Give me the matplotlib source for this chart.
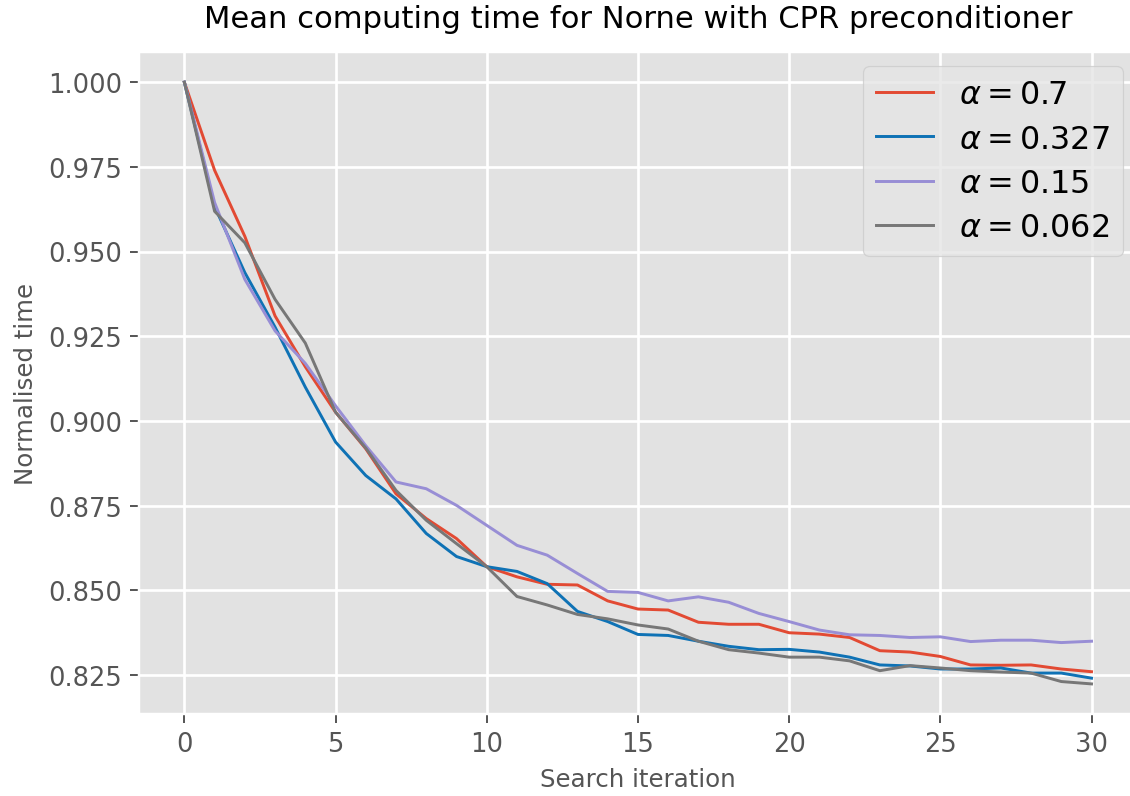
import numpy as np
import matplotlib
matplotlib.use("Agg")
import matplotlib.pyplot as plt

plt.style.use("ggplot")

iterations = np.arange(31)

# mean normalised computing time per search iteration, one list per alpha
time_a07 = [1.000, 0.974, 0.9545, 0.931, 0.916, 0.9026, 0.8918, 0.8785, 0.8712, 0.8653,
            0.857, 0.854, 0.8518, 0.8516, 0.8469, 0.8445, 0.8442, 0.8406, 0.840, 0.840,
            0.8375, 0.8371, 0.8361, 0.8322, 0.8318, 0.8305, 0.828, 0.8279, 0.828, 0.8268,
            0.826]
time_a0327 = [1.000, 0.9633, 0.9438, 0.9277, 0.910, 0.8938, 0.8839, 0.877, 0.8668, 0.860,
              0.857, 0.8556, 0.852, 0.8438, 0.8408, 0.837, 0.8367, 0.835, 0.8335, 0.8325,
              0.8326, 0.8318, 0.8303, 0.828, 0.8277, 0.8268, 0.8268, 0.8271, 0.8256, 0.8256,
              0.8241]
time_a015 = [1.000, 0.9645, 0.9418, 0.9266, 0.917, 0.9045, 0.8927, 0.882, 0.880, 0.8751,
             0.8692, 0.8633, 0.8604, 0.855, 0.8497, 0.8494, 0.8469, 0.8481, 0.8465, 0.8432,
             0.8408, 0.8383, 0.8369, 0.8367, 0.8361, 0.8363, 0.8349, 0.8353, 0.8353, 0.8346,
             0.835]
time_a0062 = [1.000, 0.9619, 0.9526, 0.9359, 0.923, 0.9026, 0.892, 0.8795, 0.8707, 0.8638,
              0.857, 0.8482, 0.8457, 0.8429, 0.8416, 0.8398, 0.8386, 0.835, 0.8325, 0.8315,
              0.8303, 0.8303, 0.8292, 0.8263, 0.8278, 0.8271, 0.8263, 0.8259, 0.8256, 0.8231,
              0.8224]

series = [
    (time_a07, r"$\alpha = 0.7$", "#E24A33"),
    (time_a0327, r"$\alpha = 0.327$", "#0f72b5"),
    (time_a015, r"$\alpha = 0.15$", "#988ED5"),
    (time_a0062, r"$\alpha = 0.062$", "#777777"),
]

fig = plt.figure(figsize=(6.4, 4.51), dpi=176.7)
# the axes run slightly past the right edge of the canvas
ax = fig.add_axes([0.1229, 0.1029, 0.8824, 0.8306])
for values, label, color in series:
    ax.plot(iterations, values, label=label, color=color, linewidth=1.2)

ax.set_facecolor("#E2E2E2")
ax.grid(True, color="white", linewidth=1.1)
ax.set_title("Mean computing time for Norne with CPR preconditioner", fontsize=12.5, pad=10)
ax.set_xlabel("Search iteration", fontsize=10)
ax.set_ylabel("Normalised time", fontsize=10)
ax.tick_params(labelsize=10.5)
ax.legend(loc="upper right", fontsize=13, handlelength=1.8, labelspacing=0.42,
          borderaxespad=0.45, borderpad=0.4)

fig.savefig("out.png")
